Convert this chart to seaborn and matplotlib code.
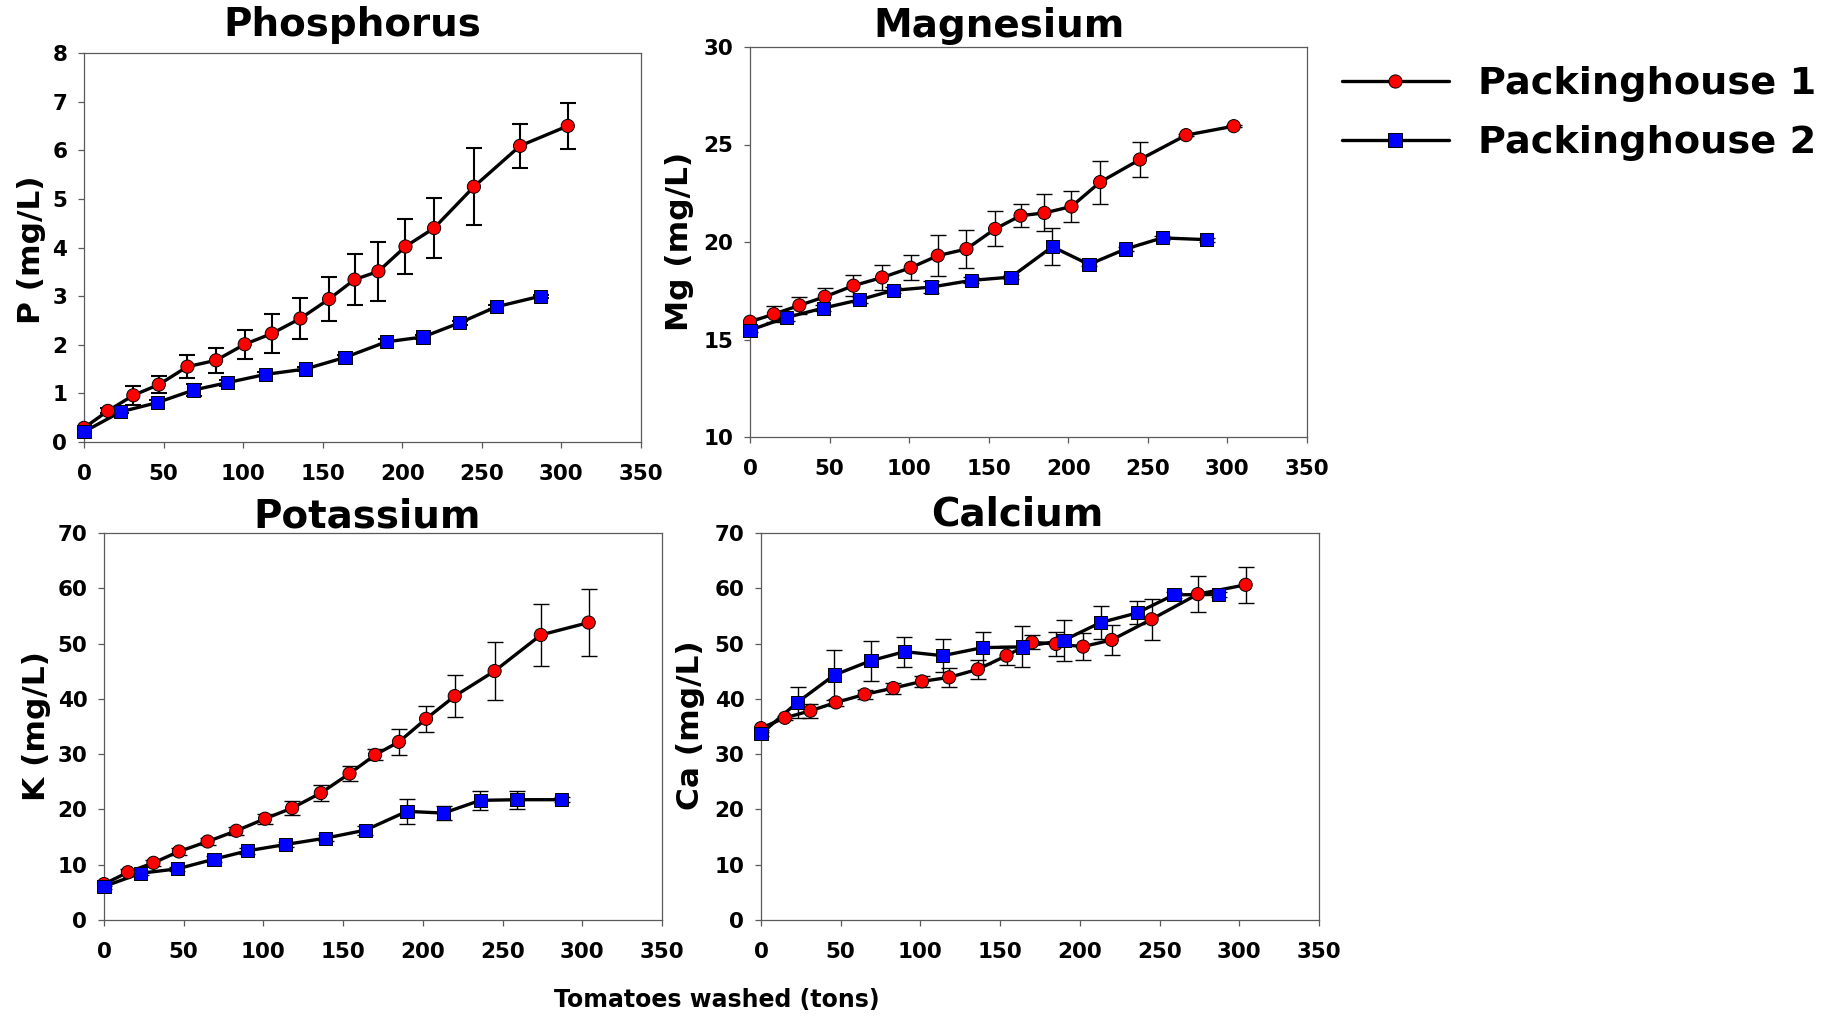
import numpy as np
import pandas as pd
import matplotlib
matplotlib.use("Agg")
import matplotlib.pyplot as plt
from matplotlib.lines import Line2D
import seaborn as sns

# tonnes washed at each sampling point
tons_ph1 = [0, 15, 31, 47, 65, 83, 101, 118, 136, 154, 170, 185, 202, 220, 245, 274, 304]
tons_ph2 = [0, 23, 46, 69, 90, 114, 139, 164, 190, 213, 236, 259, 287]

# Phosphorus (mg/L)
p_ph1 = [0.29, 0.64, 0.96, 1.18, 1.55, 1.68, 2.01, 2.23, 2.54, 2.94, 3.34, 3.51, 4.02, 4.40, 5.25, 6.09, 6.50]
p_ph1_err = [0.05, 0.05, 0.20, 0.17, 0.23, 0.26, 0.30, 0.40, 0.43, 0.46, 0.53, 0.60, 0.57, 0.62, 0.79, 0.46, 0.48]
p_ph2 = [0.21, 0.62, 0.81, 1.07, 1.22, 1.39, 1.50, 1.74, 2.06, 2.16, 2.45, 2.78, 3.00]
p_ph2_err = [0.03, 0.03, 0.05, 0.12, 0.06, 0.04, 0.04, 0.04, 0.05, 0.04, 0.04, 0.04, 0.03]

# Magnesium (mg/L)
mg_ph1 = [15.91, 16.30, 16.75, 17.19, 17.76, 18.18, 18.68, 19.30, 19.64, 20.67, 21.35, 21.49, 21.82, 23.07, 24.23, 25.48, 25.94]
mg_ph1_err = [0.2, 0.4, 0.45, 0.45, 0.55, 0.65, 0.65, 1.05, 0.95, 0.9, 0.6, 0.95, 0.78, 1.1, 0.9, 0.05, 0.05]
mg_ph2 = [15.48, 16.13, 16.61, 17.04, 17.52, 17.69, 18.03, 18.20, 19.76, 18.85, 19.64, 20.21, 20.12]
mg_ph2_err = [0.1, 0.2, 0.15, 0.15, 0.15, 0.3, 0.15, 0.1, 0.95, 0.1, 0.1, 0.1, 0.1]

# Potassium (mg/L)
k_ph1 = [6.5, 8.64, 10.34, 12.39, 14.2, 16.14, 18.32, 20.25, 22.97, 26.48, 29.86, 32.22, 36.39, 40.5, 45.03, 51.56, 53.8]
k_ph1_err = [0.4, 0.5, 0.6, 0.7, 0.6, 0.7, 0.9, 1.3, 1.5, 1.3, 1.0, 2.3, 2.4, 3.8, 5.3, 5.6, 6.0]
k_ph2 = [6.05, 8.46, 9.25, 11.0, 12.51, 13.66, 14.81, 16.26, 19.65, 19.34, 21.64, 21.76, 21.76]
k_ph2_err = [0.4, 0.4, 0.4, 0.5, 0.5, 0.5, 0.5, 0.8, 2.2, 1.2, 1.75, 1.6, 0.4]

# Calcium (mg/L)
ca_ph1 = [34.7, 36.57, 37.84, 39.35, 40.8, 41.95, 43.16, 43.89, 45.34, 47.81, 50.23, 49.93, 49.45, 50.66, 54.40, 58.94, 60.63]
ca_ph1_err = [0.3, 0.4, 1.3, 0.7, 0.8, 1.0, 1.0, 1.7, 1.7, 1.7, 1.3, 2.2, 2.5, 2.7, 3.7, 3.3, 3.3]
ca_ph2 = [33.67, 39.41, 44.31, 46.91, 48.54, 47.81, 49.27, 49.39, 50.6, 53.8, 55.55, 58.82, 58.88]
ca_ph2_err = [0.3, 2.8, 4.6, 3.6, 2.7, 3.0, 2.9, 3.7, 3.7, 3.0, 2.1, 0.5, 0.5]

houses = ["Packinghouse 1", "Packinghouse 2"]
x_ticks = [0, 50, 100, 150, 200, 250, 300, 350]

W, H = 1835, 1018


def px_rect(left, top, right, bottom):
    return [left / W, 1 - bottom / H, (right - left) / W, (bottom - top) / H]


def make_df(v1, e1, v2, e2):
    d1 = pd.DataFrame({"tons": tons_ph1, "value": v1, "err": e1, "house": houses[0]})
    d2 = pd.DataFrame({"tons": tons_ph2, "value": v2, "err": e2, "house": houses[1]})
    return pd.concat([d1, d2], ignore_index=True)


panels = [
    # title, ylabel, data, ylim, ystep, rect, title pos, ylabel pos, errorbar lw
    ("Phosphorus", "P (mg/L)", make_df(p_ph1, p_ph1_err, p_ph2, p_ph2_err),
     (0, 8), 1, px_rect(84, 53, 641, 442), (352, 36), (31, 250), 1.5),
    ("Magnesium", "Mg (mg/L)", make_df(mg_ph1, mg_ph1_err, mg_ph2, mg_ph2_err),
     (10, 30), 5, px_rect(750, 47, 1307, 437), (999, 37), (679, 241), 1.0),
    ("Potassium", "K (mg/L)", make_df(k_ph1, k_ph1_err, k_ph2, k_ph2_err),
     (0, 70), 10, px_rect(104, 533, 662, 920), (367, 527), (37, 726), 1.0),
    ("Calcium", "Ca (mg/L)", make_df(ca_ph1, ca_ph1_err, ca_ph2, ca_ph2_err),
     (0, 70), 10, px_rect(761, 533, 1319, 920), (1017, 526), (690, 725), 1.0),
]

sns.set_theme(style="white")
plt.rcParams["font.family"] = ["DejaVu Sans"]
plt.rcParams["font.weight"] = "bold"
plt.rcParams["text.color"] = "black"

fig = plt.figure(figsize=(W / 100, H / 100), dpi=100)
spine_col = "#5a5a5a"
palette = {houses[0]: "#ff0000", houses[1]: "#0000ff"}
markers = {houses[0]: "o", houses[1]: "s"}

for title, ylabel, df, ylim, ystep, rect, tpos, ypos, elw in panels:
    ax = fig.add_axes(rect)

    for h in houses:
        sub = df[df["house"] == h]
        ax.errorbar(sub["tons"], sub["value"], yerr=sub["err"], fmt="none",
                    ecolor="black", elinewidth=elw, capsize=6, capthick=elw, zorder=2)

    sns.lineplot(data=df, x="tons", y="value", units="house", estimator=None,
                 sort=False, color="black", lw=2.4, ax=ax, zorder=3)
    sns.scatterplot(data=df, x="tons", y="value", hue="house", style="house",
                    palette=palette, markers=markers, s=90, edgecolor="black",
                    linewidth=0.7, legend=False, ax=ax, zorder=4, clip_on=False)

    ax.set_xlim(0, 350)
    ax.set_ylim(*ylim)
    ax.set_xticks(x_ticks)
    ax.set_yticks(np.arange(ylim[0], ylim[1] + ystep / 2, ystep))
    ax.set_xlabel("")
    ax.set_ylabel("")
    ax.tick_params(axis="both", direction="out", length=4, width=0.9,
                   color=spine_col, labelsize=15.5, labelcolor="black")
    ax.tick_params(axis="x", pad=12)
    ax.tick_params(axis="y", pad=8)
    ax.tick_params(left=True, bottom=True)
    for lab in ax.get_xticklabels() + ax.get_yticklabels():
        lab.set_fontweight("bold")
    for sp in ax.spines.values():
        sp.set_visible(True)
        sp.set_color(spine_col)
        sp.set_linewidth(0.9)

    fig.text(tpos[0] / W, 1 - tpos[1] / H, title, ha="center", va="baseline",
             fontsize=28, fontweight="bold", color="black")
    fig.text(ypos[0] / W, 1 - ypos[1] / H, ylabel, ha="center", va="center",
             rotation=90, fontsize=22.5, fontweight="bold", color="black")

fig.text(717 / W, 1 - 1000 / H, "Tomatoes washed (tons)", ha="center",
         va="center", fontsize=17, fontweight="bold", color="black")

handles = [
    Line2D([], [], color="black", lw=2.4, marker="o", markersize=9.5,
           markerfacecolor="#ff0000", markeredgecolor="black", markeredgewidth=0.7),
    Line2D([], [], color="black", lw=2.4, marker="s", markersize=9.5,
           markerfacecolor="#0000ff", markeredgecolor="black", markeredgewidth=0.7),
]
fig.legend(handles, houses, loc="upper left", bbox_to_anchor=(1342 / W, 1 - 66 / H),
           frameon=False, borderpad=0, borderaxespad=0, handlelength=2.8,
           handletextpad=0.77, labelspacing=0.6,
           prop={"size": 27.5, "weight": "bold"})

fig.savefig("out.png", dpi=100)
